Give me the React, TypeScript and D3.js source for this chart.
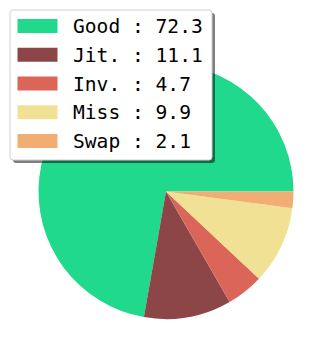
import React, { useRef, useEffect } from "react";
import * as d3 from "d3";

const labels = ["Good", "Jit.", "Inv.", "Miss", "Swap"];
const values = [72.3, 11.1, 4.7, 9.9, 2.1];
const colors = ["#20d98d", "#8c4647", "#dc655a", "#f1e194", "#f2ae72"];

const W = 333;
const H = 358;

export default function App() {
  const svgRef = useRef<SVGSVGElement>(null);

  useEffect(() => {
    const svg = d3.select(svgRef.current);
    svg.selectAll("*").remove();

    const cx = 166;
    const cy = 191.5;
    const r = 127.5;

    // matplotlib style: start at 3 o'clock, go counterclockwise
    const pieGen = d3
      .pie<number>()
      .sort(null)
      .startAngle(Math.PI / 2)
      .endAngle(Math.PI / 2 - 2 * Math.PI);
    const arcGen = d3.arc<d3.PieArcDatum<number>>().innerRadius(0).outerRadius(r);

    svg
      .append("g")
      .attr("transform", `translate(${cx},${cy})`)
      .selectAll("path")
      .data(pieGen(values))
      .join("path")
      .attr("d", arcGen)
      .attr("fill", (d, i) => colors[i]);

    // legend
    const lg = svg.append("g").attr("transform", "translate(10,10)");
    const lw = 202;
    const lh = 150;
    lg.append("rect")
      .attr("x", 3)
      .attr("y", 3)
      .attr("width", lw)
      .attr("height", lh)
      .attr("rx", 3)
      .attr("fill", "#000")
      .attr("opacity", 0.5);
    lg.append("rect")
      .attr("x", 0)
      .attr("y", 0)
      .attr("width", lw)
      .attr("height", lh)
      .attr("rx", 3)
      .attr("fill", "#fff")
      .attr("stroke", "#d0d0d0")
      .attr("stroke-width", 1);

    const y = d3
      .scalePoint<string>()
      .domain(labels)
      .range([16, 131]);

    const rows = lg
      .selectAll("g.row")
      .data(labels)
      .join("g")
      .attr("class", "row")
      .attr("transform", (d) => `translate(0,${y(d)})`);

    rows
      .append("rect")
      .attr("x", 7.5)
      .attr("y", -7)
      .attr("width", 40)
      .attr("height", 14)
      .attr("fill", (d, i) => colors[i]);

    rows
      .append("text")
      .attr("x", 63)
      .attr("y", 7)
      .attr("font-family", "DejaVu Sans Mono")
      .attr("font-size", 19.6)
      .attr("fill", "#000")
      .style("white-space", "pre")
      .text((d, i) => `${d.padEnd(4, " ")} : ${values[i].toFixed(1)}`);
  }, []);

  return <svg ref={svgRef} width={W} height={H} style={{ position: "absolute", left: 0, top: 0 }} />;
}
